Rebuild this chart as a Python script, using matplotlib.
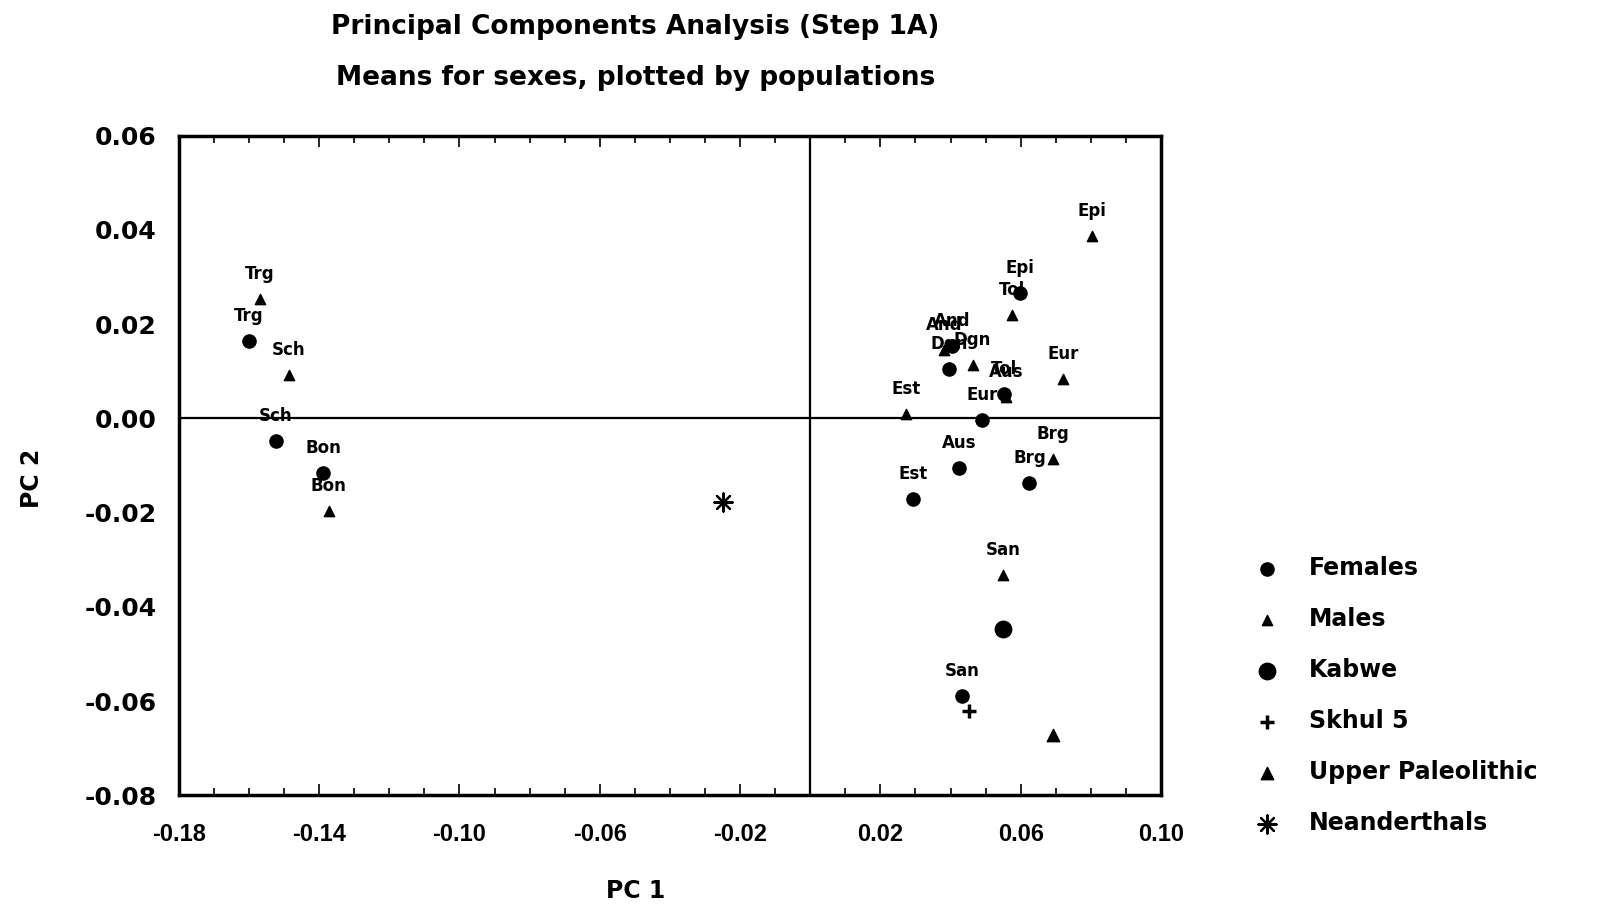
import matplotlib
matplotlib.use('Agg')
import matplotlib.pyplot as plt
from matplotlib.ticker import MultipleLocator, FixedLocator

plt.rcParams['axes.unicode_minus'] = False

# population means (PC1, PC2)
pops = ['Trg', 'Sch', 'Bon', 'Est', 'And', 'Dgn', 'Aus', 'Tol', 'Epi', 'Eur', 'Brg', 'San']
fem_x = [-0.160, -0.1524, -0.1388, 0.0294, 0.0404, 0.0396, 0.0425, 0.0553, 0.0599, 0.0489, 0.0625, 0.0434]
fem_y = [0.0164, -0.0048, -0.0117, -0.0171, 0.0153, 0.0105, -0.0106, 0.0051, 0.0265, -0.0003, -0.0137, -0.0590]
male_x = [-0.157, -0.1486, -0.1373, 0.0274, 0.0381, 0.0463, 0.0558, 0.0576, 0.0802, 0.0721, 0.0692, 0.0550]
male_y = [0.0254, 0.0092, -0.0197, 0.0010, 0.0146, 0.0114, 0.0045, 0.0220, 0.0386, 0.0084, -0.0087, -0.0333]

# fossils
kabwe = (0.0550, -0.0446)
skhul5 = (0.0454, -0.0620)
upper_pal = (0.0692, -0.0672)
neand = (-0.0249, -0.0178)

x_ticks = [-0.18, -0.14, -0.10, -0.06, -0.02, 0.02, 0.06, 0.10]
y_ticks = [0.06, 0.04, 0.02, 0.00, -0.02, -0.04, -0.06, -0.08]

fig = plt.figure(figsize=(15.97, 9.10), dpi=100)
ax = fig.add_axes([0.112, 0.126, 0.615, 0.725])

ax.axhline(0, color='black', lw=1.6, zorder=1)
ax.axvline(0, color='black', lw=1.6, zorder=1)

h_f = ax.scatter(fem_x, fem_y, marker='o', s=90, color='black', zorder=3, label='Females')
h_m = ax.scatter(male_x, male_y, marker='^', s=55, color='black', zorder=3, label='Males')
h_k = ax.scatter([kabwe[0]], [kabwe[1]], marker='o', s=140, color='black', zorder=3, label='Kabwe')
h_s = ax.scatter([skhul5[0]], [skhul5[1]], marker='+', s=110, color='black', linewidths=2.5, zorder=3, label='Skhul 5')
h_u = ax.scatter([upper_pal[0]], [upper_pal[1]], marker='^', s=80, color='black', zorder=3, label='Upper Paleolithic')
h_n = ax.scatter([neand[0]], [neand[1]], marker=(8, 2, 0), s=170, color='black', linewidths=1.6, zorder=3, label='Neanderthals')

for name, x, y in zip(pops, fem_x, fem_y):
    ax.annotate(name, (x, y), xytext=(0, 18), textcoords='offset points',
                ha='center', va='center', fontsize=12, fontweight='bold')
for name, x, y in zip(pops, male_x, male_y):
    ax.annotate(name, (x, y), xytext=(0, 18), textcoords='offset points',
                ha='center', va='center', fontsize=12, fontweight='bold')

ax.set_xlim(-0.18, 0.10)
ax.set_ylim(-0.08, 0.06)
ax.xaxis.set_major_locator(FixedLocator(x_ticks))
ax.yaxis.set_major_locator(FixedLocator(y_ticks))
ax.xaxis.set_minor_locator(MultipleLocator(0.01))
ax.set_xticklabels([f'{v:.2f}' for v in x_ticks], fontsize=17, fontweight='bold', family='Liberation Sans')
ax.set_yticklabels([f'{v:.2f}' for v in y_ticks], fontsize=18, fontweight='bold')
ax.tick_params(axis='x', which='both', direction='in', top=True, length=5, width=1.2, pad=20)
ax.tick_params(axis='x', which='major', length=8)
ax.tick_params(axis='y', which='both', direction='in', length=0, pad=16)
for s in ax.spines.values():
    s.set_linewidth(2.5)

fig.text(0.398, 0.970, 'Principal Components Analysis (Step 1A)', ha='center', va='center', fontsize=19, fontweight='bold')
fig.text(0.398, 0.914, 'Means for sexes, plotted by populations', ha='center', va='center', fontsize=19, fontweight='bold')
fig.text(0.398, 0.021, 'PC 1', ha='center', va='center', fontsize=17, fontweight='bold')
fig.text(0.020, 0.474, 'PC 2', ha='center', va='center', fontsize=17, fontweight='bold', rotation=90)

fig.legend(handles=[h_f, h_m, h_k, h_s, h_u, h_n], loc='upper left', bbox_to_anchor=(0.771, 0.412),
           frameon=False, prop={'size': 17, 'weight': 'bold'}, labelspacing=1.14,
           handletextpad=1.2, handlelength=1.2, scatterpoints=1)

fig.savefig('out.png', dpi=100)
